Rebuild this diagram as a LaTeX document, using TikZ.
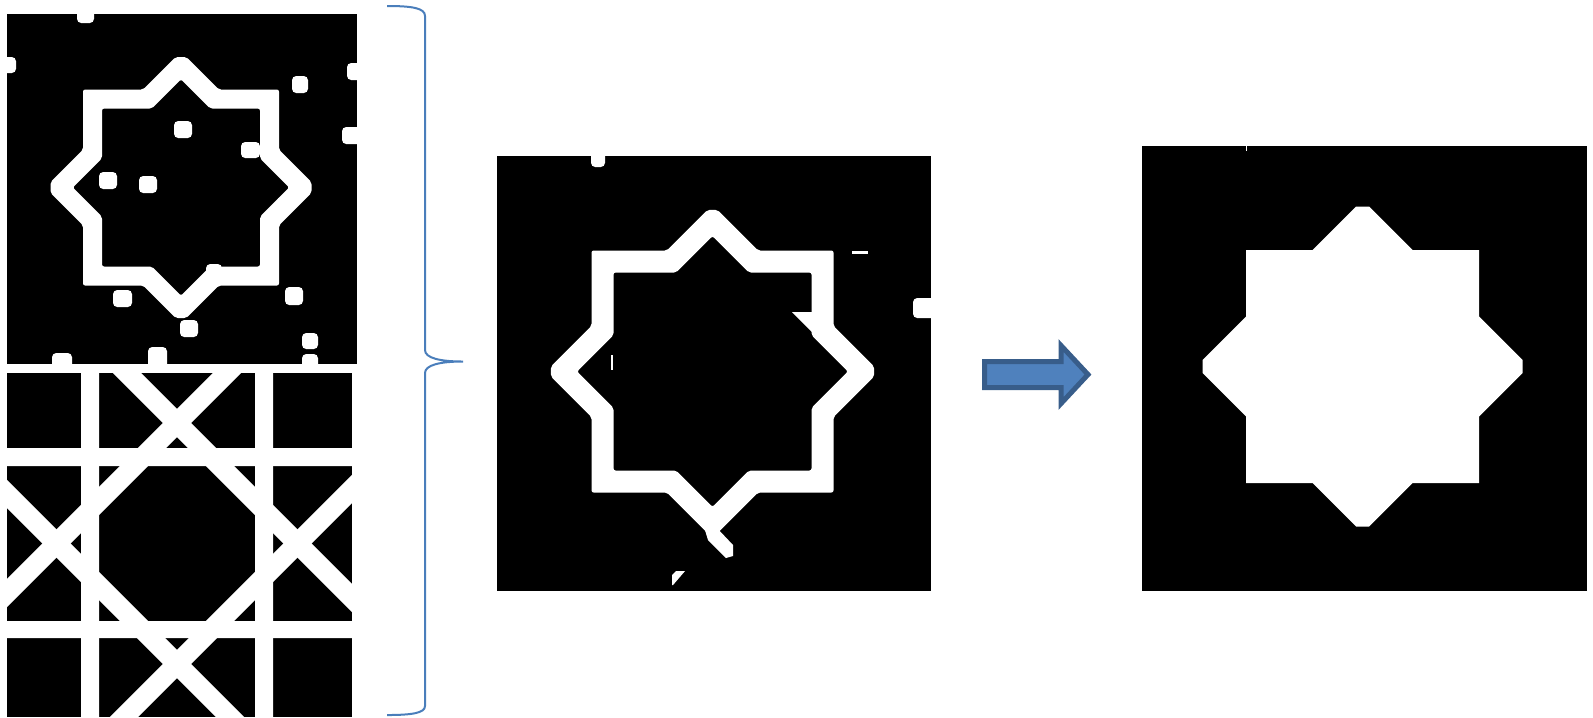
\documentclass[tikz,border=0pt]{standalone}

\definecolor{azul}{HTML}{4F81BD}
\definecolor{azulescuro}{HTML}{385D8A}
\definecolor{chave}{HTML}{4A7EBB}

\begin{document}
\begin{tikzpicture}[x=0.1mm, y=-0.1mm,
    ponto/.style={fill=white, rounded corners=1.2pt},
    faixa/.style={fill=white, even odd rule, rounded corners=0.6pt}]

\useasboundingbox (0,0) rectangle (1593,717);

    \coordinate (centro-a) at (181,187.5);
    \coordinate (centro-b) at (712.5,371.5);
    \coordinate (centro-c) at (1362.5,366.5);

% painel de cima
\fill[black] (7,14) rectangle (357,364);

% pontos soltos
\path[ponto] (77,6) rectangle (94,23);
\path[ponto] (0,57) rectangle (16,73);
\path[ponto] (292,76) rectangle (308,93);
\path[ponto] (347,63) rectangle (364,80);
\path[ponto] (342,127) rectangle (364,144);
\path[ponto] (174,121) rectangle (192,138);
\path[ponto] (241,142) rectangle (260,158);
\path[ponto] (99,172) rectangle (117,189);
\path[ponto] (139,176) rectangle (157,193);
\path[ponto] (277,197) rectangle (287,205);
\path[ponto] (206,264) rectangle (222,277);
\path[ponto] (113,290) rectangle (132,307);
\path[ponto] (285,287) rectangle (303,305);
\path[ponto] (180,320) rectangle (198,337);
\path[ponto] (302,333) rectangle (318,349);
\path[ponto] (302,354) rectangle (318,369);
\path[ponto] (52,353) rectangle (72,369);
\path[ponto] (148,347) rectangle (167,369);

% estrela vazada
\begin{scope}[shift={(centro-a)}]
\path[faixa] (-5.3,-130.5) -- (5.3,-130.5) -- (37.8,-98) -- (98,-98) -- (98,-37.8) -- (130.5,-5.3) -- (130.5,5.3) -- (98,37.8) -- (98,98) -- (37.8,98) -- (5.3,130.5) -- (-5.3,130.5) -- (-37.8,98) -- (-98,98) -- (-98,37.8) -- (-130.5,5.3) -- (-130.5,-5.3) -- (-98,-37.8) -- (-98,-98) -- (-37.8,-98) -- cycle
    (0,-108.2) -- (29.2,-79) -- (79,-79) -- (79,-29.2) -- (108.2,0) -- (79,29.2) -- (79,79) -- (29.2,79) -- (0,108.2) -- (-29.2,79) -- (-79,79) -- (-79,29.2) -- (-108.2,0) -- (-79,-29.2) -- (-79,-79) -- (-29.2,-79) -- cycle;
\end{scope}

% painel de baixo (trelica)
\begin{scope}
\clip (7,373) rectangle (352,717);
\fill[black] (7,373) rectangle (352,717);
\fill[white] (81,373) rectangle (99,717) (255,373) rectangle (273,717);
\fill[white] (7,448) rectangle (352,466) (7,621) rectangle (352,638);
\draw[white, line width=2mm] (300,300) -- (-200,800) (541,300) -- (41,800);
\draw[white, line width=2mm] (0,246) -- (600,846) (0,487) -- (400,887);
\end{scope}

% chave
\draw[chave, line width=0.2mm] (387,6) .. controls (412,6) and (425,8) .. (425,16) -- (425,350) .. controls (425,358) and (440,361.5) .. (463,361.5) .. controls (440,361.5) and (425,365) .. (425,373) -- (425,706) .. controls (425,713) and (412,715) .. (387,715);

% painel do meio
\fill[black] (497,156) rectangle (931,591);

\path[ponto] (591,148) rectangle (605,167);
\path[ponto] (913,298) rectangle (940,318);
\fill[white] (852,251) rectangle (868,253.5);
\fill[white] (610.5,355) rectangle (612.5,370);
\fill[white] (672,575) -- (676,571) -- (685,571) -- (673,585) -- (672,585) -- cycle;
\fill[white] (792,312) -- (812,312) -- (840,340) -- (833,353) -- cycle;
\fill[white] (704,527) -- (716,527) -- (733,545) -- (733,556) -- (726,558) -- (708,540) -- cycle;

\begin{scope}[shift={(centro-b)}]
\path[faixa] (-5,-161.6) -- (5,-161.6) -- (45.6,-121) -- (121,-121) -- (121,-45.6) -- (161.6,-5) -- (161.6,5) -- (121,45.6) -- (121,121) -- (45.6,121) -- (5,161.6) -- (-5,161.6) -- (-45.6,121) -- (-121,121) -- (-121,45.6) -- (-161.6,5) -- (-161.6,-5) -- (-121,-45.6) -- (-121,-121) -- (-45.6,-121) -- cycle
    (0,-135.4) -- (36.4,-99) -- (99,-99) -- (99,-36.4) -- (135.4,0) -- (99,36.4) -- (99,99) -- (36.4,99) -- (0,135.4) -- (-36.4,99) -- (-99,99) -- (-99,36.4) -- (-135.4,0) -- (-99,-36.4) -- (-99,-99) -- (-36.4,-99) -- cycle;
\end{scope}

% seta
\draw[azulescuro, fill=azul, line width=0.5mm] (984.5,361.5) -- (1061,361.5) -- (1061,345.5) -- (1088,374.5) -- (1061,403.5) -- (1061,387.5) -- (984.5,387.5) -- cycle;

% painel da direita
\fill[black] (1142,146) rectangle (1587,591);
\fill[white] (1245.5,146) rectangle (1246.5,151);

% estrela cheia
\begin{scope}[shift={(centro-c)}]
\fill[white] (-6.5,-160) -- (6.5,-160) -- (50,-116.5) -- (116.5,-116.5) -- (116.5,-50) -- (160,-6.5) -- (160,6.5) -- (116.5,50) -- (116.5,116.5) -- (50,116.5) -- (6.5,160) -- (-6.5,160) -- (-50,116.5) -- (-116.5,116.5) -- (-116.5,50) -- (-160,6.5) -- (-160,-6.5) -- (-116.5,-50) -- (-116.5,-116.5) -- (-50,-116.5) -- cycle;
\end{scope}

\end{tikzpicture}
\end{document}
